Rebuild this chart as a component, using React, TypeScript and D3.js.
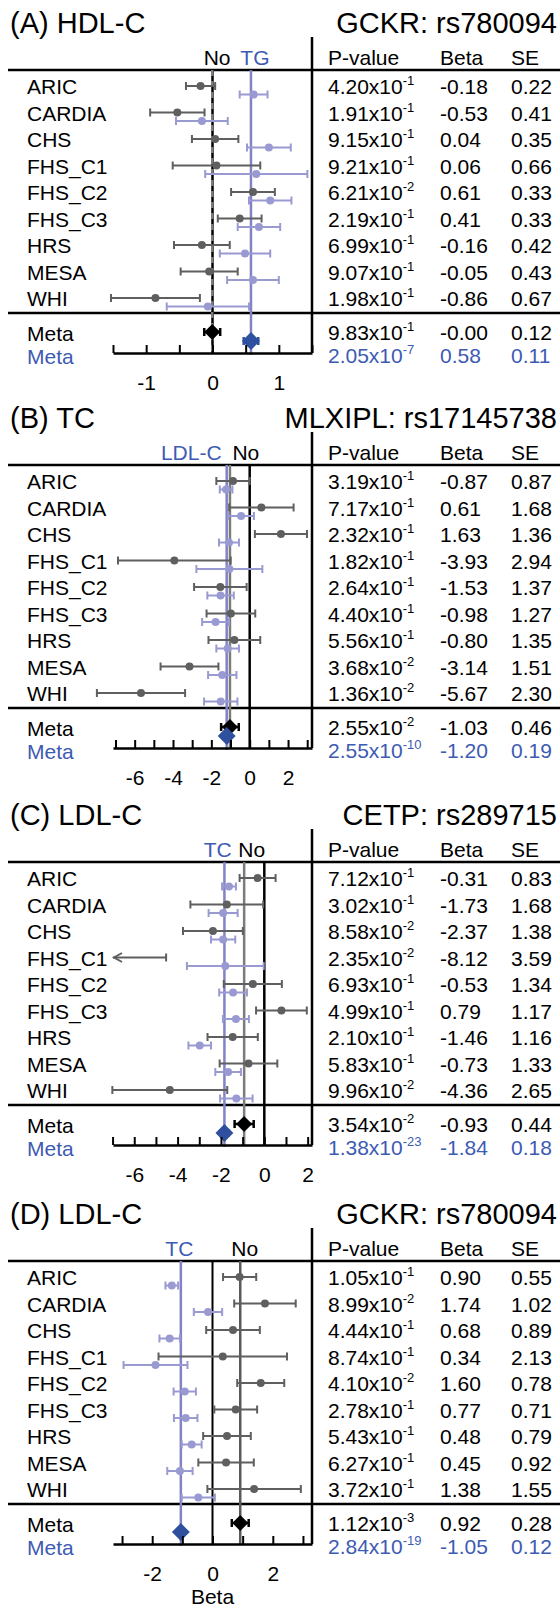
import React, { useEffect, useRef } from 'react';
import * as d3 from 'd3';

// study names, same for every panel
const studies = ['ARIC', 'CARDIA', 'CHS', 'FHS_C1', 'FHS_C2', 'FHS_C3', 'HRS', 'MESA', 'WHI'];

// (A) HDL-C, GCKR rs780094, adjusted for TG
const aP = [4.20e-1, 1.91e-1, 9.15e-1, 9.21e-1, 6.21e-2, 2.19e-1, 6.99e-1, 9.07e-1, 1.98e-1];
const aBeta = [-0.18, -0.53, 0.04, 0.06, 0.61, 0.41, -0.16, -0.05, -0.86];
const aSE = [0.22, 0.41, 0.35, 0.66, 0.33, 0.33, 0.42, 0.43, 0.67];
const aAdjBeta = [0.62, -0.16, 0.85, 0.66, 0.87, 0.70, 0.49, 0.61, -0.07];
const aAdjSE = [0.21, 0.39, 0.33, 0.77, 0.32, 0.32, 0.38, 0.39, 0.62];
const aMetaP = [9.83e-1, 2.05e-7];
const aMetaBeta = [-0.004, 0.58];
const aMetaSE = [0.12, 0.11];

// (B) TC, MLXIPL rs17145738, adjusted for LDL-C
const bP = [3.19e-1, 7.17e-1, 2.32e-1, 1.82e-1, 2.64e-1, 4.40e-1, 5.56e-1, 3.68e-2, 1.36e-2];
const bBeta = [-0.87, 0.61, 1.63, -3.93, -1.53, -0.98, -0.80, -3.14, -5.67];
const bSE = [0.87, 1.68, 1.36, 2.94, 1.37, 1.27, 1.35, 1.51, 2.30];
const bAdjBeta = [-1.23, -0.45, -1.08, -1.06, -1.52, -1.78, -1.15, -1.43, -1.51];
const bAdjSE = [0.33, 0.67, 0.52, 1.72, 0.69, 0.70, 0.59, 0.74, 0.87];
const bMetaP = [2.55e-2, 2.55e-10];
const bMetaBeta = [-1.03, -1.20];
const bMetaSE = [0.46, 0.19];

// (C) LDL-C, CETP rs289715, adjusted for TC
const cP = [7.12e-1, 3.02e-1, 8.58e-2, 2.35e-2, 6.93e-1, 4.99e-1, 2.10e-1, 5.83e-1, 9.96e-2];
const cBeta = [-0.31, -1.73, -2.37, -8.12, -0.53, 0.79, -1.46, -0.73, -4.36];
const cSE = [0.83, 1.68, 1.38, 3.59, 1.34, 1.17, 1.16, 1.33, 2.65];
const cAdjBeta = [-1.63, -1.90, -1.90, -1.80, -1.44, -1.31, -2.98, -1.67, -1.29];
const cAdjSE = [0.32, 0.67, 0.56, 1.77, 0.64, 0.60, 0.52, 0.59, 0.75];
const cMetaP = [3.54e-2, 1.38e-23];
const cMetaBeta = [-0.93, -1.84];
const cMetaSE = [0.44, 0.18];

// (D) LDL-C, GCKR rs780094, adjusted for TC
const dP = [1.05e-1, 8.99e-2, 4.44e-1, 8.74e-1, 4.10e-2, 2.78e-1, 5.43e-1, 6.27e-1, 3.72e-1];
const dBeta = [0.90, 1.74, 0.68, 0.34, 1.60, 0.77, 0.48, 0.45, 1.38];
const dSE = [0.55, 1.02, 0.89, 2.13, 0.78, 0.71, 0.79, 0.92, 1.55];
const dAdjBeta = [-1.35, -0.15, -1.42, -1.89, -0.92, -0.89, -0.69, -1.08, -0.47];
const dAdjSE = [0.21, 0.47, 0.34, 1.06, 0.37, 0.39, 0.33, 0.42, 0.55];
const dMetaP = [1.12e-3, 2.84e-19];
const dMetaBeta = [0.92, -1.05];
const dMetaSE = [0.28, 0.12];

const titles = ['(A) HDL-C', '(B) TC', '(C) LDL-C', '(D) LDL-C'];
const snps = ['GCKR: rs780094', 'MLXIPL: rs17145738', 'CETP: rs289715', 'GCKR: rs780094'];
const adjNames = ['TG', 'LDL-C', 'TC', 'TC'];

// axis domains, tick values and labelled ticks
const domains = [[-1.5, 1.5], [-7.13, 3.25], [-6.98, 2.2], [-3.3, 3.3]];
const tickSets = [
  [-1.5, -1, -0.5, 0, 0.5, 1, 1.5],
  [-7, -6, -5, -4, -3, -2, -1, 0, 1, 2, 3],
  [-7, -6, -5, -4, -3, -2, -1, 0, 1, 2],
  [-3, -2, -1, 0, 1, 2, 3],
];
const tickLabels = [[-1, 0, 1], [-6, -4, -2, 0, 2], [-6, -4, -2, 0, 2], [-2, 0, 2]];
// where the "No" / adjusted header words sit, in beta units
const noAt = [0.07, -0.2, -0.58, 1.07];
const adjAt = [0.64, -3.05, -2.15, -1.1];

const panels = [
  { p: aP, beta: aBeta, se: aSE, adjBeta: aAdjBeta, adjSE: aAdjSE, mP: aMetaP, mBeta: aMetaBeta, mSE: aMetaSE },
  { p: bP, beta: bBeta, se: bSE, adjBeta: bAdjBeta, adjSE: bAdjSE, mP: bMetaP, mBeta: bMetaBeta, mSE: bMetaSE },
  { p: cP, beta: cBeta, se: cSE, adjBeta: cAdjBeta, adjSE: cAdjSE, mP: cMetaP, mBeta: cMetaBeta, mSE: cMetaSE },
  { p: dP, beta: dBeta, se: dSE, adjBeta: dAdjBeta, adjSE: dAdjSE, mP: dMetaP, mBeta: dMetaBeta, mSE: dMetaSE },
];

const FONT = '"Liberation Sans", Arial, Helvetica, sans-serif';
const tops = [70, 465, 862, 1261];
const X0 = 113, X1 = 312;
const dark = '#5f5f5f', lav = '#9a9ad2', blueLine = '#8282c6', metaBlue = '#2f4f9f', blueText = '#3d5bb3', grayLine = '#7c7c7c';

function pv(p) {
  const e = Math.floor(Math.log10(p));
  const m = (p / Math.pow(10, e)).toFixed(2);
  return [m + 'x10', String(e)];
}

function Axis({ scale, ticks, labels, y }) {
  const ref = useRef(null);
  useEffect(() => {
    const ax = d3.axisBottom(scale)
      .tickValues(ticks)
      .tickSizeInner(-8)
      .tickSizeOuter(0)
      .tickPadding(22)
      .tickFormat(d => (labels.some(l => Math.abs(l - d) < 1e-9) ? String(d) : ''));
    const g = d3.select(ref.current);
    g.call(ax);
    g.attr('font-size', null).attr('font-family', null);
    g.select('.domain').attr('stroke', '#000').attr('stroke-width', 2.5);
    g.selectAll('.tick line').attr('stroke', '#000').attr('stroke-width', 2);
    g.selectAll('.tick text').attr('fill', '#000').attr('font-size', 21).attr('font-family', FONT);
  }, [scale, ticks, labels]);
  return <g ref={ref} transform={`translate(0,${y})`} />;
}

// whisker of +-SE; only cut (with an arrow) when the estimate itself is off the axis
function ErrBar({ x, y, b, s, color, dot, width = 2 }) {
  const [lo] = x.domain();
  const off = b < lo;
  const xl = off ? x(lo) : x(b - s);
  const xr = x(b + s);
  return (
    <g stroke={color} strokeWidth={width} fill="none">
      <line x1={xl} x2={xr} y1={y} y2={y} />
      {off ? <path d={`M${xl + 9},${y - 4.5}L${xl + 1},${y}L${xl + 9},${y + 4.5}`} /> :
        <line x1={xl} x2={xl} y1={y - 4} y2={y + 4} />}
      <line x1={xr} x2={xr} y1={y - 4} y2={y + 4} />
      {dot && !off ? <circle cx={x(b)} cy={y} r={4} fill={color} stroke="none" /> : null}
    </g>
  );
}

function Panel({ k }) {
  const d = panels[k];
  const top = tops[k];
  const axisY = top + 283;
  const sepY = top + 243;
  const x = d3.scaleLinear().domain(domains[k]).range([X0, X1]);
  const rowY = i => top + 16 + i * 26.5;
  const metaY = top + 263;
  const diamond = d3.symbol(d3.symbolSquare, 128)();
  const diamondBig = d3.symbol(d3.symbolSquare, 160)();
  const metaNear0 = Math.abs(d.mBeta[0]) < 0.05;

  return (
    <g fontFamily={FONT}>
      <text x={10} y={top - 37} fontSize={29}>{titles[k]}</text>
      <text x={557} y={top - 37} fontSize={29} textAnchor="end">{snps[k]}</text>

      <text x={x(noAt[k])} y={top - 5} fontSize={21} textAnchor="middle">No</text>
      <text x={x(adjAt[k])} y={top - 5} fontSize={21} textAnchor="middle" fill={blueText}>{adjNames[k]}</text>
      <text x={328} y={top - 5} fontSize={21}>P-value</text>
      <text x={440} y={top - 5} fontSize={21}>Beta</text>
      <text x={511} y={top - 5} fontSize={21}>SE</text>

      <line x1={8} x2={560} y1={top} y2={top} stroke="#000" strokeWidth={2.5} />
      <line x1={8} x2={560} y1={sepY} y2={sepY} stroke="#000" strokeWidth={2.5} />
      <line x1={X1} x2={X1} y1={top - 33} y2={axisY} stroke="#000" strokeWidth={2.5} />

      {/* reference lines: no effect, unadjusted meta, adjusted meta */}
      <line x1={x(0)} x2={x(0)} y1={top} y2={axisY} stroke="#000" strokeWidth={k === 3 ? 2 : 2.5} />
      <line x1={x(d.mBeta[0])} x2={x(d.mBeta[0])} y1={top} y2={axisY} stroke={k === 3 ? '#5a5a5a' : grayLine}
        strokeWidth={2.5} strokeDasharray={metaNear0 ? '6,5' : null} />
      <line x1={x(d.mBeta[1])} x2={x(d.mBeta[1])} y1={top} y2={axisY + 2} stroke={blueLine} strokeWidth={2.5} />

      {studies.map((s, i) => (
        <g key={s}>
          <text x={27} y={rowY(i) + 8} fontSize={21}>{s}</text>
          <ErrBar x={x} y={rowY(i)} b={d.beta[i]} s={d.se[i]} color={dark} dot />
          <ErrBar x={x} y={rowY(i) + 8.5} b={d.adjBeta[i]} s={d.adjSE[i]} color={lav} dot />
          <text x={328} y={rowY(i) + 8} fontSize={21}>
            {pv(d.p[i])[0]}<tspan fontSize={13} dy={-9}>{pv(d.p[i])[1]}</tspan>
          </text>
          <text x={440} y={rowY(i) + 8} fontSize={21}>{d.beta[i].toFixed(2)}</text>
          <text x={511} y={rowY(i) + 8} fontSize={21}>{d.se[i].toFixed(2)}</text>
        </g>
      ))}

      <text x={27} y={metaY + 8} fontSize={21}>Meta</text>
      <text x={27} y={metaY + 31} fontSize={21} fill={blueText}>Meta</text>
      {[0, 1].map(j => (
        <g key={j} fill={j ? blueText : '#000'}>
          <text x={328} y={metaY + 7 + j * 23} fontSize={21}>
            {pv(d.mP[j])[0]}<tspan fontSize={13} dy={-9}>{pv(d.mP[j])[1]}</tspan>
          </text>
          <text x={440} y={metaY + 7 + j * 23} fontSize={21}>{d.mBeta[j].toFixed(2)}</text>
          <text x={511} y={metaY + 7 + j * 23} fontSize={21}>{d.mSE[j].toFixed(2)}</text>
        </g>
      ))}

      <ErrBar x={x} y={metaY - 1} b={d.mBeta[0]} s={d.mSE[0]} color="#000" width={2.5} />
      <path d={diamond} transform={`translate(${x(d.mBeta[0])},${metaY - 1}) rotate(45)`} fill="#000" />
      <ErrBar x={x} y={metaY + 8} b={d.mBeta[1]} s={d.mSE[1]} color={metaBlue} width={2.5} />
      <path d={diamondBig} transform={`translate(${x(d.mBeta[1])},${metaY + 8}) rotate(45)`} fill={metaBlue} />

      <Axis scale={x} ticks={tickSets[k]} labels={tickLabels[k]} y={axisY} />
      {k === 3 ? <text x={(X0 + X1) / 2} y={axisY + 60} fontSize={21} textAnchor="middle">Beta</text> : null}
    </g>
  );
}

export default function App() {
  return (
    <svg width={560} height={1608} style={{ position: 'absolute', left: 0, top: 0, background: '#fff' }}>
      <rect width={560} height={1608} fill="#fff" />
      {panels.map((_, k) => <Panel key={k} k={k} />)}
    </svg>
  );
}
